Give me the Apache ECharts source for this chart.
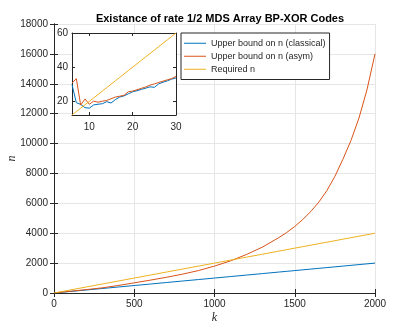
<!DOCTYPE html>
<html style="height: 100%">
<head>
  <meta charset="utf-8">
</head>
<body style="height: 100%; margin: 0; background: #fff">
  <div id="container" style="width: 415px; height: 330px"></div>
  <script type="text/javascript" src="https://cdn.jsdelivr.net/npm/echarts@6/dist/echarts.min.js"></script>
  <script type="text/javascript">
// small k (inset range)
var insetK = [6, 7, 8, 9, 10, 11, 12, 13, 14, 15, 16, 17, 18, 19, 20, 21, 22, 23, 24, 25, 26, 27, 28, 29, 30];
var insetClassical = [29.8, 19.2, 18.2, 16.3, 16.0, 17.9, 18.3, 18.6, 19.8, 19.0, 21.0, 22.5, 23.2, 24.4, 25.6, 26.2, 27.0, 27.7, 28.5, 28.2, 30.2, 31.2, 32.0, 33.0, 33.7];
var insetAsym = [30.7, 33.3, 17.8, 21.4, 18.3, 20.1, 19.5, 20.1, 20.5, 21.5, 22.5, 23.0, 23.5, 25.6, 26.0, 26.8, 27.6, 28.4, 29.5, 30.2, 31.0, 31.8, 32.6, 33.3, 34.6];
var insetRequired = [12, 14, 16, 18, 20, 22, 24, 26, 28, 30, 32, 34, 36, 38, 40, 42, 44, 46, 48, 50, 52, 54, 56, 58, 60];

// large k (main range)
var bigK = [50, 100, 200, 300, 400, 500, 600, 700, 800, 900, 1000, 1100, 1200, 1300, 1400, 1450, 1500, 1550, 1600, 1650, 1700, 1750, 1800, 1850, 1900, 1950, 2000];
var bigClassical = [52, 102, 200, 300, 400, 500, 600, 700, 800, 900, 1000, 1100, 1200, 1300, 1400, 1450, 1500, 1550, 1600, 1650, 1700, 1750, 1800, 1850, 1900, 1950, 2000];
var bigAsym = [60, 115, 225, 345, 500, 680, 860, 1050, 1260, 1500, 1800, 2150, 2580, 3080, 3700, 4050, 4450, 4920, 5450, 6080, 6850, 7800, 8950, 10200, 11700, 13600, 16000];
var bigRequired = [100, 200, 400, 600, 800, 1000, 1200, 1400, 1600, 1800, 2000, 2200, 2400, 2600, 2800, 2900, 3000, 3100, 3200, 3300, 3400, 3500, 3600, 3700, 3800, 3900, 4000];

var insetXTicks = [10, 20, 30];
var insetYTicks = [20, 40, 60];

var names = ['Upper bound on n (classical)', 'Upper bound on n (asym)', 'Required n'];
var colors = ['#0072BD', '#D95319', '#EDB120'];

function zip(xs, ys) {
  return xs.map(function (x, i) { return [x, ys[i]]; });
}

var dom = document.getElementById('container');
var myChart = echarts.init(dom, null, { renderer: 'canvas' });

var axisColor = '#262626';
var font = 'Liberation Sans';
var tickStyle = { inside: true, length: 4, lineStyle: { color: axisColor } };
var lineStyleAx = { lineStyle: { color: axisColor, width: 1 } };
var plain = function (v) { return String(v); };

var option = {
  backgroundColor: '#fff',
  animation: false,
  color: colors,
  title: {
    text: 'Existance of rate 1/2 MDS Array BP-XOR Codes',
    left: 215,
    top: 8,
    textAlign: 'center',
    textStyle: { fontFamily: font, fontSize: 11, fontWeight: 'bold', color: '#000' }
  },
  legend: {
    data: names,
    orient: 'vertical',
    left: 181,
    top: 33,
    icon: 'rect',
    itemWidth: 22,
    itemHeight: 1,
    itemGap: 0.5,
    padding: [4, 4, 4, 3],
    backgroundColor: '#fff',
    borderColor: axisColor,
    borderWidth: 1,
    borderRadius: 0,
    textStyle: { fontFamily: font, fontSize: 9, color: axisColor, lineHeight: 12.5 }
  },
  grid: [
    { left: 54, right: 40, top: 24, bottom: 37, outerBoundsMode: 'none', containLabel: false },
    { left: 72, right: 239, top: 33, bottom: 215, outerBoundsMode: 'none', containLabel: false,
      show: true, backgroundColor: '#fff', borderWidth: 0, z: 5 }
  ],
  xAxis: [
    {
      type: 'value', gridIndex: 0, min: 0, max: 2000, interval: 500,
      name: 'k', nameLocation: 'middle', nameGap: 19, nameMoveOverlap: false,
      nameTextStyle: { fontFamily: 'Liberation Serif', fontStyle: 'italic', fontSize: 12, color: axisColor },
      axisLine: lineStyleAx, axisTick: tickStyle,
      axisLabel: { fontFamily: font, fontSize: 10, color: axisColor, margin: 6, formatter: plain },
      splitLine: { show: true, lineStyle: { color: '#e6e6e6' } }
    },
    {
      type: 'value', gridIndex: 0, position: 'top', min: 0, max: 2000, interval: 500,
      axisLine: lineStyleAx, axisTick: tickStyle, axisLabel: { show: false }, splitLine: { show: false }
    },
    {
      type: 'value', gridIndex: 1, min: 6, max: 30,
      axisLine: lineStyleAx,
      axisTick: { inside: true, length: 3, lineStyle: { color: axisColor }, customValues: insetXTicks },
      axisLabel: { fontFamily: font, fontSize: 10, color: axisColor, margin: 7, customValues: insetXTicks },
      splitLine: { show: false }, z: 6
    },
    {
      type: 'value', gridIndex: 1, position: 'top', min: 6, max: 30,
      axisLine: lineStyleAx,
      axisTick: { inside: true, length: 3, lineStyle: { color: axisColor }, customValues: insetXTicks },
      axisLabel: { show: false }, splitLine: { show: false }, z: 6
    }
  ],
  yAxis: [
    {
      type: 'value', gridIndex: 0, min: 0, max: 18000, interval: 2000,
      name: 'n', nameLocation: 'middle', nameGap: 36, nameRotate: 90, nameMoveOverlap: false,
      nameTextStyle: { fontFamily: 'Liberation Serif', fontStyle: 'italic', fontSize: 12, color: axisColor },
      axisLine: lineStyleAx, axisTick: tickStyle,
      axisLabel: { fontFamily: font, fontSize: 10, color: axisColor, margin: 6, formatter: plain },
      splitLine: { show: true, lineStyle: { color: '#e6e6e6' } }
    },
    {
      type: 'value', gridIndex: 0, position: 'right', min: 0, max: 18000, interval: 2000,
      axisLine: lineStyleAx, axisTick: tickStyle, axisLabel: { show: false }, splitLine: { show: false }
    },
    {
      type: 'value', gridIndex: 1, min: 12, max: 60,
      axisLine: lineStyleAx,
      axisTick: { inside: true, length: 3, lineStyle: { color: axisColor }, customValues: insetYTicks },
      axisLabel: { fontFamily: font, fontSize: 10, color: axisColor, margin: 4, customValues: insetYTicks },
      splitLine: { show: false }, z: 6
    },
    {
      type: 'value', gridIndex: 1, position: 'right', min: 12, max: 60,
      axisLine: lineStyleAx,
      axisTick: { inside: true, length: 3, lineStyle: { color: axisColor }, customValues: insetYTicks },
      axisLabel: { show: false }, splitLine: { show: false }, z: 6
    }
  ],
  series: [
    { name: names[0], data: zip(insetK, insetClassical).concat(zip(bigK, bigClassical)), xAxisIndex: 0, yAxisIndex: 0 },
    { name: names[1], data: zip(insetK, insetAsym).concat(zip(bigK, bigAsym)), xAxisIndex: 0, yAxisIndex: 0 },
    { name: names[2], data: [[0, 0]].concat(zip(insetK, insetRequired), zip(bigK, bigRequired)), xAxisIndex: 0, yAxisIndex: 0 },
    { name: names[0], data: zip(insetK, insetClassical), xAxisIndex: 2, yAxisIndex: 2, z: 7 },
    { name: names[1], data: zip(insetK, insetAsym), xAxisIndex: 2, yAxisIndex: 2, z: 7 },
    { name: names[2], data: zip(insetK, insetRequired), xAxisIndex: 2, yAxisIndex: 2, z: 7 }
  ].map(function (s, i) {
    s.type = 'line';
    s.symbol = 'none';
    s.lineStyle = { width: 1, color: colors[i % 3] };
    s.itemStyle = { color: colors[i % 3] };
    return s;
  })
};

myChart.setOption(option);
window.addEventListener('resize', myChart.resize);
  </script>
</body>
</html>
